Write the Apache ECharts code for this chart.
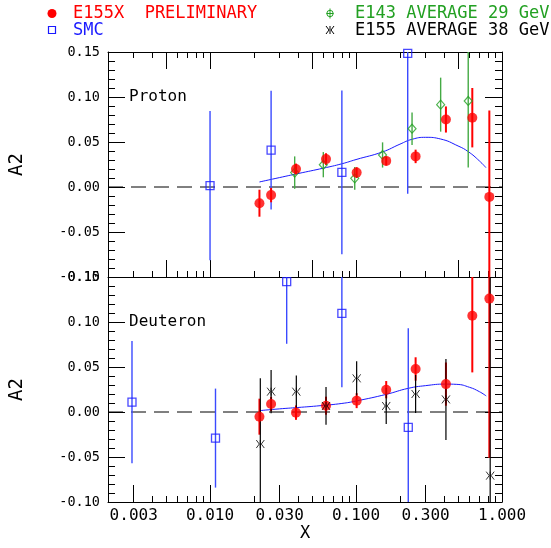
<!DOCTYPE html>
<html lang="en">
<head>
  <meta charset="UTF-8">
  <script src="https://cdn.jsdelivr.net/npm/echarts/dist/echarts.min.js"></script>
  <style>
    body { margin: 0; background: #ffffff; }
    #main { width: 551px; height: 548px; }
  </style>
</head>
<body>
  <div id="main"></div>
  <script>
    // ---- Proton data ----
    var pX155X   = [0.0218, 0.0262, 0.0388, 0.0623, 0.101, 0.161, 0.256, 0.413, 0.626, 0.819];
    var pA155X   = [-0.018, -0.009, 0.020, 0.031, 0.016, 0.029, 0.034, 0.075, 0.077, -0.011];
    var pE155X   = [0.015, 0.008, 0.006, 0.0065, 0.006, 0.005, 0.0075, 0.0145, 0.033, 0.096];

    var pX143    = [0.038, 0.0597, 0.098, 0.152, 0.242, 0.380, 0.587];
    var pA143    = [0.016, 0.0248, 0.0096, 0.0356, 0.0648, 0.0915, 0.0956];
    var pE143    = [0.018, 0.014, 0.0126, 0.014, 0.018, 0.030, 0.074];

    var pXSmc    = [0.0100, 0.0262, 0.080, 0.226];
    var pASmc    = [0.0015, 0.041, 0.0163, 0.1485];
    var pESmc    = [0.083, 0.066, 0.091, 0.156];

    var pCurveX  = [0.0218, 0.03, 0.04, 0.06, 0.08, 0.10, 0.152, 0.20, 0.242, 0.30, 0.38, 0.50, 0.587, 0.70, 0.776];
    var pCurveY  = [0.0056, 0.0105, 0.0149, 0.0210, 0.0258, 0.0305, 0.039, 0.0476, 0.053, 0.0552, 0.0533, 0.0456, 0.0393, 0.029, 0.0215];

    // ---- Deuteron data ----
    var dX155X   = [0.0218, 0.0262, 0.0388, 0.0623, 0.101, 0.161, 0.256, 0.413, 0.626, 0.819];
    var dA155X   = [-0.0052, 0.0089, -0.0007, 0.007, 0.0126, 0.0248, 0.0478, 0.031, 0.107, 0.126];
    var dE155X   = [0.020, 0.008, 0.008, 0.010, 0.0083, 0.0096, 0.013, 0.024, 0.063, 0.177];

    var dX155    = [0.0221, 0.0262, 0.039, 0.0623, 0.101, 0.161, 0.256, 0.413, 0.83];
    var dA155    = [-0.0356, 0.0226, 0.0226, 0.0067, 0.0374, 0.0067, 0.020, 0.014, -0.0707];
    var dE155    = [0.073, 0.024, 0.018, 0.021, 0.019, 0.020, 0.021, 0.045, 0.23];

    var dXSmc    = [0.00292, 0.0109, 0.0335, 0.080, 0.228];
    var dASmc    = [0.011, -0.029, 0.1448, 0.1096, -0.017];
    var dESmc    = [0.068, 0.055, 0.069, 0.082, 0.11];

    var dCurveX  = [0.0218, 0.03, 0.04, 0.0567, 0.08, 0.10, 0.161, 0.228, 0.30, 0.41, 0.49, 0.60, 0.70, 0.78];
    var dCurveY  = [0.0015, 0.0035, 0.0050, 0.0070, 0.0095, 0.0122, 0.0196, 0.0263, 0.0293, 0.031, 0.0307, 0.0274, 0.0226, 0.0178];

    // ---- axis ticks ----
    var xMin = 0.002, xMax = 1;
    var yMin = -0.10, yMax = 0.15;
    var pMajor = [0.005, 0.01, 0.05, 0.1, 0.5, 1];
    var pMinor = [0.002, 0.003, 0.004, 0.006, 0.007, 0.008, 0.009, 0.02, 0.03, 0.04, 0.06, 0.07, 0.08, 0.09, 0.2, 0.3, 0.4, 0.6, 0.7, 0.8, 0.9];
    var dMajor = [0.003, 0.01, 0.03, 0.1, 0.3, 1];
    var dMinor = [0.002, 0.004, 0.005, 0.006, 0.007, 0.008, 0.009, 0.02, 0.04, 0.05, 0.06, 0.07, 0.08, 0.09, 0.2, 0.4, 0.5, 0.6, 0.7, 0.8, 0.9];
    var xLabels = [0.003, 0.01, 0.03, 0.1, 0.3, 1];

    var MONO = '"DejaVu Sans Mono", monospace';
    var RED = '#ff0000', BLUE = '#1a1aff', GREEN = '#22a022', BLACK = '#000000';
    var STAR = 'path://M5,0L5,10M1,0L4,5L1,10M9,0L6,5L9,10';

    var chart = echarts.init(document.getElementById('main'));

    function lg(v) { return Math.log10(v); }
    function pts(xs, ys) { return xs.map(function (x, i) { return [x, ys[i]]; }); }
    function errPts(xs, ys, es) { return xs.map(function (x, i) { return [x, ys[i], es[i]]; }); }

    function errRender(color, width) {
      return function (params, api) {
        var x = api.value(0), y = api.value(1), e = api.value(2);
        var lo = Math.max(y - e, yMin), hi = Math.min(y + e, yMax);
        var a = api.coord([x, lo]), b = api.coord([x, hi]);
        return {
          type: 'line',
          shape: { x1: a[0], y1: a[1], x2: b[0], y2: b[1] },
          style: { stroke: color, lineWidth: width }
        };
      };
    }

    function tickAxis(grid, pos, vals, len, line) {
      return {
        type: 'value', gridIndex: grid, position: pos,
        min: lg(xMin), max: lg(xMax),
        axisLine: { show: line, onZero: false, lineStyle: { color: BLACK, width: 1 } },
        axisTick: { show: true, inside: true, length: len, customValues: vals.map(lg), lineStyle: { color: BLACK } },
        axisLabel: { show: false },
        splitLine: { show: false }
      };
    }

    function yAxis(grid, pos, labels) {
      return {
        type: 'value', gridIndex: grid, position: pos,
        min: yMin, max: yMax, interval: 0.05,
        axisLine: { show: true, onZero: false, lineStyle: { color: BLACK, width: 1 } },
        axisTick: { show: true, inside: true, length: 17, lineStyle: { color: BLACK } },
        minorTick: { show: true, splitNumber: 5, length: 7, lineStyle: { color: BLACK } },
        axisLabel: {
          show: labels, margin: 8, color: BLACK, fontFamily: MONO, fontSize: 13.5,
          formatter: function (v) { return v.toFixed(2); }
        },
        splitLine: { show: false }, minorSplitLine: { show: false }
      };
    }

    var xAxes = [
      // proton
      { type: 'log', logBase: 10, gridIndex: 0, min: xMin, max: xMax, show: false },
      tickAxis(0, 'bottom', pMajor, 17, true),
      tickAxis(0, 'bottom', pMinor, 6, false),
      tickAxis(0, 'top', pMajor, 17, true),
      tickAxis(0, 'top', pMinor, 6, false),
      // deuteron
      { type: 'log', logBase: 10, gridIndex: 1, min: xMin, max: xMax, show: false },
      tickAxis(1, 'bottom', dMajor, 17, true),
      tickAxis(1, 'bottom', dMinor, 6, false)
    ];
    xAxes[6].axisLabel = {
      show: true, customValues: xLabels.map(lg), margin: 6,
      color: BLACK, fontFamily: MONO, fontSize: 16,
      formatter: function (v) { return Math.pow(10, v).toFixed(3); }
    };

    function zeroLine(xi, yi) {
      return {
        type: 'line', xAxisIndex: xi, yAxisIndex: yi, data: [[xMin, 0], [xMax, 0]],
        symbol: 'none', silent: true, z: 1,
        lineStyle: { color: BLACK, width: 1, type: [15, 8] }
      };
    }
    function curve(xi, yi, xs, ys) {
      return {
        type: 'line', xAxisIndex: xi, yAxisIndex: yi, data: pts(xs, ys),
        smooth: true, symbol: 'none', silent: true, z: 2,
        lineStyle: { color: BLUE, width: 1 }
      };
    }
    function bars(xi, yi, xs, ys, es, color, w) {
      return {
        type: 'custom', xAxisIndex: xi, yAxisIndex: yi, silent: true, z: 3,
        renderItem: errRender(color, w), data: errPts(xs, ys, es)
      };
    }
    function marks(xi, yi, xs, ys, symbol, size, style) {
      return {
        type: 'scatter', xAxisIndex: xi, yAxisIndex: yi, data: pts(xs, ys),
        symbol: symbol, symbolSize: size, itemStyle: style, silent: true, z: 4
      };
    }

    var openBlue = { color: 'rgba(0,0,0,0)', borderColor: BLUE, borderWidth: 1.3 };
    var openGreen = { color: 'rgba(0,0,0,0)', borderColor: GREEN, borderWidth: 1.2 };
    var star = { color: 'none', borderColor: BLACK, borderWidth: 1 };
    var redDot = { color: RED };

    var series = [
      // proton
      zeroLine(0, 0),
      curve(0, 0, pCurveX, pCurveY),
      bars(0, 0, pXSmc, pASmc, pESmc, '#3a4aff', 1.4),
      marks(0, 0, pXSmc, pASmc, 'rect', 8, openBlue),
      bars(0, 0, pX143, pA143, pE143, '#44aa44', 1.4),
      marks(0, 0, pX143, pA143, 'diamond', [8, 9], openGreen),
      bars(0, 0, pX155X, pA155X, pE155X, RED, 2),
      marks(0, 0, pX155X, pA155X, 'circle', 10, redDot),
      // deuteron
      zeroLine(5, 2),
      curve(5, 2, dCurveX, dCurveY),
      bars(5, 2, dXSmc, dASmc, dESmc, '#3a4aff', 1.4),
      marks(5, 2, dXSmc, dASmc, 'rect', 8, openBlue),
      bars(5, 2, dX155X, dA155X, dE155X, RED, 2),
      marks(5, 2, dX155X, dA155X, 'circle', 10, redDot),
      bars(5, 2, dX155, dA155, dE155, BLACK, 1.2),
      marks(5, 2, dX155, dA155, STAR, 8, star)
    ];

    var legendFont = '17px ' + MONO;
    var thin = { stroke: BLACK, lineWidth: 1, fill: 'none' };
    var graphics = [
      { type: 'circle', shape: { cx: 52, cy: 13.5, r: 4.5 }, style: { fill: RED } },
      { type: 'text', x: 73, y: 14, style: { text: 'E155X  PRELIMINARY', font: legendFont, fill: RED, verticalAlign: 'middle' } },
      { type: 'rect', shape: { x: 48.5, y: 26.5, width: 7, height: 7 }, style: { fill: 'none', stroke: BLUE, lineWidth: 1.2 } },
      { type: 'text', x: 73, y: 31, style: { text: 'SMC', font: legendFont, fill: BLUE, verticalAlign: 'middle' } },
      { type: 'circle', shape: { cx: 330, cy: 13.5, r: 3.2 }, style: { fill: 'none', stroke: GREEN, lineWidth: 1 } },
      { type: 'polyline', shape: { points: [[330, 8.5], [330, 18.5]] }, style: { stroke: GREEN, lineWidth: 1 } },
      { type: 'polyline', shape: { points: [[326.5, 13.5], [333.5, 13.5]] }, style: { stroke: GREEN, lineWidth: 1 } },
      { type: 'text', x: 355, y: 14, style: { text: 'E143 AVERAGE 29 GeV', font: legendFont, fill: GREEN, verticalAlign: 'middle' } },
      { type: 'polyline', shape: { points: [[330, 26], [330, 34]] }, style: thin },
      { type: 'polyline', shape: { points: [[326, 26], [329, 30], [326, 34]] }, style: thin },
      { type: 'polyline', shape: { points: [[334, 26], [331, 30], [334, 34]] }, style: thin },
      { type: 'text', x: 355, y: 31, style: { text: 'E155 AVERAGE 38 GeV', font: legendFont, fill: BLACK, verticalAlign: 'middle' } },
      // panel captions
      { type: 'text', x: 129, y: 97, style: { text: 'Proton', font: '16px ' + MONO, fill: BLACK, verticalAlign: 'middle' } },
      { type: 'text', x: 129, y: 322, style: { text: 'Deuteron', font: '16px ' + MONO, fill: BLACK, verticalAlign: 'middle' } },
      // axis titles
      { type: 'text', x: 17, y: 164.5, rotation: Math.PI / 2, style: { text: 'A2', font: '19px ' + MONO, fill: BLACK, align: 'center', verticalAlign: 'middle' } },
      { type: 'text', x: 17, y: 389.5, rotation: Math.PI / 2, style: { text: 'A2', font: '19px ' + MONO, fill: BLACK, align: 'center', verticalAlign: 'middle' } },
      { type: 'text', x: 305, y: 534, style: { text: 'X', font: '17px ' + MONO, fill: BLACK, align: 'center', verticalAlign: 'middle' } }
    ];

    chart.setOption({
      animation: false,
      backgroundColor: '#ffffff',
      grid: [
        { left: 108, top: 52, right: 49, height: 225 },
        { left: 108, top: 277, right: 49, height: 225 }
      ],
      xAxis: xAxes,
      yAxis: [yAxis(0, 'left', true), yAxis(0, 'right', false), yAxis(1, 'left', true), yAxis(1, 'right', false)],
      series: series,
      graphic: graphics
    });
  </script>
</body>
</html>
